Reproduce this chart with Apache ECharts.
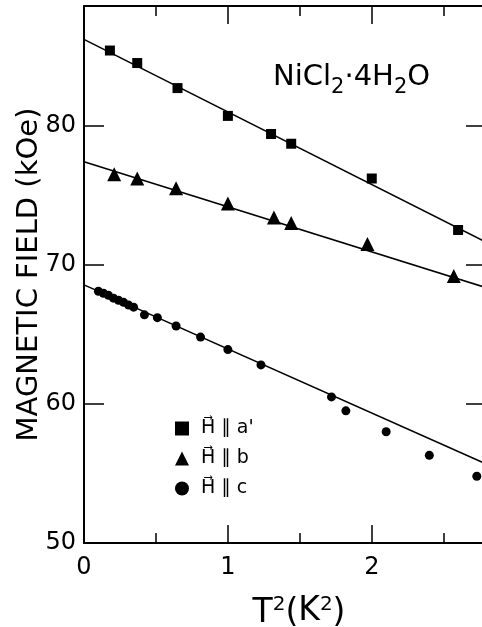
<!DOCTYPE html>
<html>
<head>
<meta charset="utf-8">
<script src="https://cdn.jsdelivr.net/npm/echarts@6/dist/echarts.min.js"></script>
<style>
html, body { margin: 0; padding: 0; background: #fff; }
#chart { width: 482px; height: 627px; }
</style>
</head>
<body>
<div id="chart"></div>
<script>
// T^2 (K^2) and critical field (kOe)
var xA = [0.18, 0.37, 0.65, 1.00, 1.30, 1.44, 2.00, 2.60];
var hA = [85.4, 84.5, 82.7, 80.7, 79.4, 78.7, 76.2, 72.5];
var xB = [0.21, 0.37, 0.64, 1.00, 1.32, 1.44, 1.97, 2.57];
var hB = [76.5, 76.2, 75.5, 74.4, 73.4, 73.0, 71.5, 69.2];
var xC = [0.10, 0.135, 0.17, 0.205, 0.24, 0.275, 0.31, 0.345, 0.42, 0.51, 0.64, 0.81, 1.00, 1.23, 1.72, 1.82, 2.10, 2.40, 2.73];
var hC = [68.1, 67.95, 67.8, 67.6, 67.45, 67.3, 67.1, 66.95, 66.4, 66.2, 65.6, 64.8, 63.9, 62.8, 60.5, 59.5, 58.0, 56.3, 54.8];

// straight fit lines, from T^2 = 0 to the right edge
var fitX = [0, 2.78];
var fitA = [86.2, 71.7];
var fitB = [77.4, 68.4];
var fitC = [68.55, 55.75];

var names = ["a'", 'b', 'c'];

function zip(xs, ys) {
    var out = [];
    for (var i = 0; i < xs.length; i++) out.push([xs[i], ys[i]]);
    return out;
}

var FONT = 'DejaVu Sans';
var X_MAX = 2.78, Y_MIN = 50, Y_MAX = 88.6;
var black = '#000';

// frame axes: long ticks on whole numbers, short ticks at the halves
function xAx(pos, step, tickLen, showLine, showLabel) {
    return {
        type: 'value', position: pos, min: 0, max: X_MAX, interval: step,
        axisLine: { show: showLine, onZero: false, lineStyle: { color: black, width: 2 } },
        axisTick: { show: true, inside: true, length: tickLen, lineStyle: { color: black, width: 1.5 } },
        axisLabel: {
            show: showLabel, margin: 13, color: black, fontFamily: FONT, fontSize: 24,
            formatter: function (v) { return v % 1 === 0 ? v : ''; }
        },
        splitLine: { show: false }
    };
}

function yAx(pos, tickLen, showLabel) {
    return {
        type: 'value', position: pos, min: Y_MIN, max: Y_MAX, interval: 10,
        axisLine: { show: true, onZero: false, lineStyle: { color: black, width: 2 } },
        axisTick: { show: true, inside: true, length: tickLen, lineStyle: { color: black, width: 1.5 } },
        axisLabel: {
            show: showLabel, margin: 8, color: black, fontFamily: FONT, fontSize: 24,
            formatter: function (v) { return v % 10 === 0 ? v : ''; }
        },
        splitLine: { show: false }
    };
}

var chart = echarts.init(document.getElementById('chart'));
var option = {
    backgroundColor: '#fff',
    animation: false,
    title: {
        text: 'NiCl{s|2}·4H{s|2}O',
        left: 273, top: 62, padding: 0,
        textStyle: {
            color: black, fontFamily: FONT, fontSize: 29, fontWeight: 'normal',
            lineHeight: 30, verticalAlign: 'top',
            rich: {
                s: { fontFamily: FONT, fontSize: 21, lineHeight: 21, padding: [15, 0, 0, 0], verticalAlign: 'top', color: black }
            }
        }
    },
    legend: {
        orient: 'vertical', left: 170, top: 414,
        itemWidth: 14, itemHeight: 14, itemGap: 11,
        data: names,
        formatter: function (n) { return 'H\u20d7 \u2225 ' + n; },
        textStyle: { color: black, fontFamily: FONT, fontSize: 19, padding: [0, 0, 0, 7] }
    },
    grid: { left: 84, top: 6, width: 400, height: 537, outerBoundsMode: 'none' },
    xAxis: [
        xAx('bottom', 0.5, 10, true, false),
        xAx('bottom', 1, 18, false, true),
        xAx('top', 0.5, 10, true, false),
        xAx('top', 1, 18, false, false)
    ],
    yAxis: [yAx('left', 20, true), yAx('right', 18, false)],
    series: [
        { name: names[0], type: 'scatter', symbol: 'rect', symbolSize: 10, itemStyle: { color: black, opacity: 1 }, data: zip(xA, hA), z: 3 },
        { name: names[1], type: 'scatter', symbol: 'triangle', symbolSize: 14, itemStyle: { color: black, opacity: 1 }, data: zip(xB, hB), z: 3 },
        { name: names[2], type: 'scatter', symbol: 'circle', symbolSize: 9, itemStyle: { color: black, opacity: 1 }, data: zip(xC, hC), z: 3 },
        { type: 'line', symbol: 'none', silent: true, lineStyle: { color: black, width: 1.5 }, data: zip(fitX, fitA) },
        { type: 'line', symbol: 'none', silent: true, lineStyle: { color: black, width: 1.5 }, data: zip(fitX, fitB) },
        { type: 'line', symbol: 'none', silent: true, lineStyle: { color: black, width: 1.5 }, data: zip(fitX, fitC) }
    ]
};

option.yAxis[0].name = 'MAGNETIC FIELD (kOe)';
option.yAxis[0].nameLocation = 'middle';
option.yAxis[0].nameGap = 40;
option.yAxis[0].nameMoveOverlap = false;
option.yAxis[0].nameTextStyle = { color: black, fontFamily: FONT, fontSize: 29 };

// x-axis name with superscripts, set on the labelled bottom axis
option.xAxis[1].name = 'T{p|2}({t|K}{p|2})';
option.xAxis[1].nameLocation = 'middle';
option.xAxis[1].nameGap = 52;
option.xAxis[1].nameMoveOverlap = false;
option.xAxis[1].nameTextStyle = {
    color: black, fontFamily: FONT, fontSize: 33, lineHeight: 36, verticalAlign: 'top',
    padding: [0, 0, 0, 30],
    rich: {
        t: { fontFamily: FONT, fontSize: 33, lineHeight: 36, verticalAlign: 'top', color: black },
        p: { fontFamily: FONT, fontSize: 20, lineHeight: 20, verticalAlign: 'top', color: black }
    }
};

chart.setOption(option);
</script>
</body>
</html>
